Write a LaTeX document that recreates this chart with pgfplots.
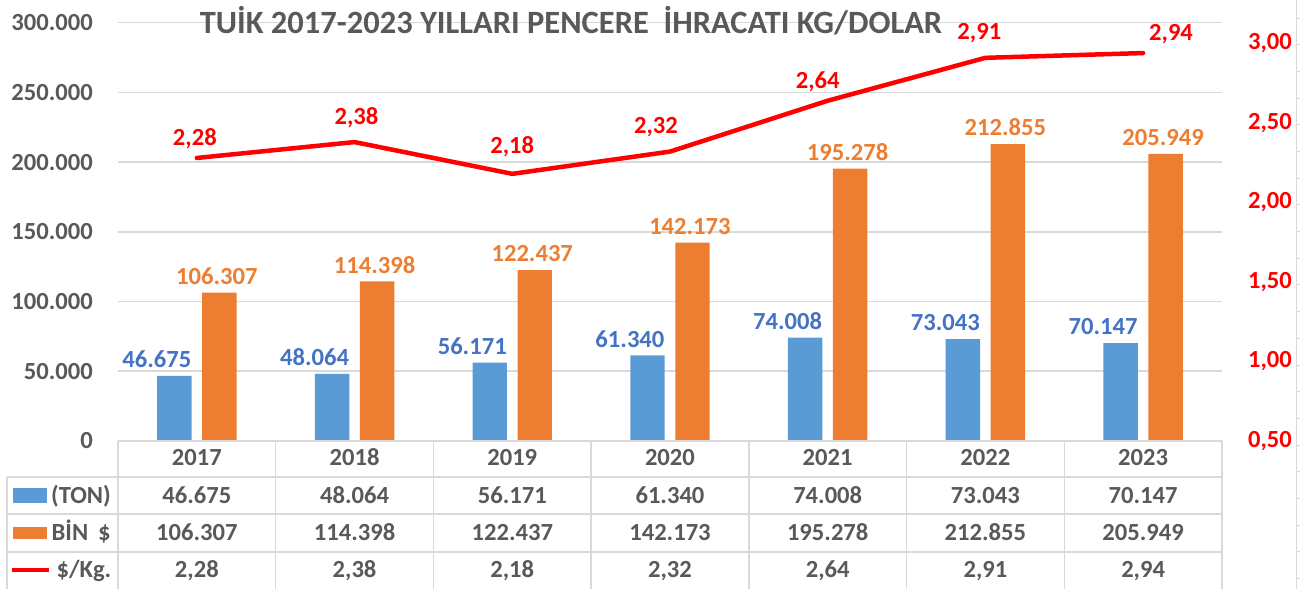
\documentclass[border=0pt]{standalone}
\usepackage{fontspec}
\setmainfont{Carlito}
\usepackage{pgfplots}
\pgfplotsset{compat=1.18}
\definecolor{tblue}{HTML}{5B9BD5}
\definecolor{lblue}{HTML}{4472C4}
\definecolor{torange}{HTML}{ED7D31}
\definecolor{tgray}{HTML}{595959}
\definecolor{ggray}{HTML}{D9D9D9}
\definecolor{tred}{HTML}{FF0000}
\newcommand\f{\fontsize{24.6}{28}\selectfont\bfseries}
\begin{document}
\begin{tikzpicture}
\begin{axis}[
  scale only axis, width=1104pt, height=418.2pt,
  xmin=-0.5, xmax=6.5, ymin=0, ymax=300000,
  clip=false,
  axis line style={draw=none},
  major tick length=0pt,
  xtick={0,...,6},
  xticklabels={2017,2018,2019,2020,2021,2022,2023},
  xticklabel style={anchor=base, inner sep=0pt, yshift=-24.8pt, font=\f, text=tgray},
  ytick={0,50000,...,300000},
  scaled y ticks=false,
  yticklabels={0,50.000,100.000,150.000,200.000,250.000,300.000},
  yticklabel style={anchor=east, inner sep=0pt, xshift=-25pt, font=\f, text=tgray},
  ymajorgrids,
  grid style={color=ggray, line width=1.5pt},
]
\addplot[ybar, bar width=34.4pt, bar shift=-22.5pt, fill=tblue, draw=none,
  point meta=explicit symbolic, nodes near coords,
  every node near coord/.style={anchor=south, inner sep=0pt, xshift=-40pt, yshift=8pt, font=\f, text=lblue}]
  table[meta=lab]{
x y lab
0 46675 46.675
1 48064 48.064
2 56171 56.171
3 61340 61.340
4 74008 74.008
5 73043 73.043
6 70147 70.147
};
\addplot[ybar, bar width=34.4pt, bar shift=22.5pt, fill=torange, draw=none,
  point meta=explicit symbolic, nodes near coords,
  every node near coord/.style={anchor=south, inner sep=0pt, xshift=20pt, yshift=8pt, font=\f, text=torange}]
  table[meta=lab]{
x y lab
0 106307 106.307
1 114398 114.398
2 122437 122.437
3 142173 142.173
4 195278 195.278
5 212855 212.855
6 205949 205.949
};
\end{axis}
\begin{axis}[
  scale only axis, width=1104pt, height=418.2pt,
  xmin=-0.5, xmax=6.5, ymin=0.5, ymax=3.131,
  clip=false,
  axis x line=none,
  axis y line*=right,
  y axis line style={draw=none},
  major tick length=0pt,
  ytick={0.5,1,1.5,2,2.5,3},
  yticklabels={{0,50},{1,00},{1,50},{2,00},{2,50},{3,00}},
  yticklabel style={anchor=west, inner sep=0pt, xshift=26pt, font=\f, text=tred},
]
\addplot[tred, line width=4.5pt, line join=round, line cap=round, mark=none,
  point meta=explicit symbolic, nodes near coords,
  visualization depends on={\thisrow{dx}\as\labdx},
  visualization depends on={\thisrow{dy}\as\labdy},
  every node near coord/.style={anchor=center, inner sep=0pt, xshift=\labdx pt, yshift=\labdy pt, font=\f, text=tred}]
  table[meta=lab]{
x y lab dx dy
0 2.28 2,28 -2 19.5
1 2.38 2,38 2 24
2 2.18 2,18 0 27
3 2.32 2,32 -14 25
4 2.64 2,64 -10 19
5 2.91 2,91 -6 25
6 2.94 2,94 28 19
};
\end{axis}
\begin{scope}[x=1pt, y=1pt, shift={(-118pt,440.9pt)}]
% title
\node[anchor=base, inner sep=0pt, text=tgray, font=\fontsize{32.5}{36}\selectfont\bfseries] at (571,-33.3) {TUİK 2017-2023 YILLARI PENCERE \ İHRACATI KG/DOLAR};
% right decorative axis
\draw[ggray, line width=1pt] (1296,-0.5) -- (1296,-588.5);
\foreach \k in {0,...,21} \draw[ggray, line width=1pt] (1296,-18.3-\k*26.67) -- ++(4,0);
% data table grid
\draw[ggray, line width=1.5pt] (118,-441) -- (1222,-441);
\foreach \yy in {477,514,552} \draw[ggray, line width=1.5pt] (7,-\yy) -- (1222,-\yy);
\foreach \k in {0,...,7} \draw[ggray, line width=1.5pt] (118+\k*157.71,-441) -- (118+\k*157.71,-589);
\draw[ggray, line width=1.5pt] (7,-477) -- (7,-589);
% legend keys
\fill[tblue] (13,-488.3) rectangle (47,-502.7);
\fill[torange] (13,-526.7) rectangle (47,-539.3);
\draw[tred, line width=4.5pt] (12,-570) -- (49,-570);
\node[anchor=base east, inner sep=0pt, font=\f, text=tgray] at (111,-503.3) {(TON)};
\node[anchor=base west, inner sep=0pt, font=\f, text=tgray] at (51.5,-540.7) {BİN\hspace{0.4em}\$};
\node[anchor=base east, inner sep=0pt, font=\f, text=tgray] at (111.5,-577.7) {\$/Kg.};
% table values
\foreach \v [count=\i from 0] in {46.675,48.064,56.171,61.340,74.008,73.043,70.147}
  \node[anchor=base, inner sep=0pt, font=\f, text=tgray] at (196.86+\i*157.71,-503.3) {\v};
\foreach \v [count=\i from 0] in {106.307,114.398,122.437,142.173,195.278,212.855,205.949}
  \node[anchor=base, inner sep=0pt, font=\f, text=tgray] at (196.86+\i*157.71,-540.7) {\v};
\foreach \v [count=\i from 0] in {{2,28},{2,38},{2,18},{2,32},{2,64},{2,91},{2,94}}
  \node[anchor=base, inner sep=0pt, font=\f, text=tgray] at (196.86+\i*157.71,-577.7) {\v};
\pgfresetboundingbox
\path[use as bounding box] (0,0) rectangle (1306,-589);
\end{scope}
\end{tikzpicture}
\end{document}
